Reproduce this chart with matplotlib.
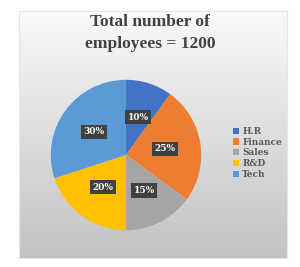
import matplotlib.pyplot as plt
import numpy as np

labels = ['H.R', 'Finance', 'Sales', 'R&D', 'Tech']
shares = [10, 25, 15, 20, 30]
colors = ['#4472C4', '#ED7D31', '#A5A5A5', '#FFC000', '#5B9BD5']
title_lines = ['Total number of', 'employees = 1200']

fig = plt.figure(figsize=(3.0, 2.67), dpi=100)
fig.patch.set_facecolor('white')

# chart panel with a light gradient (white at top, grey at bottom)
bg = fig.add_axes([19 / 300, 9 / 267, 268 / 300, 247 / 267])
bands = np.linspace(0, 1, 61)
for lo, hi in zip(bands[:-1], bands[1:]):
    g = 0.76 + 0.22 * lo
    bg.axhspan(lo, hi, color=(g, g, g), linewidth=0)
bg.set_xlim(0, 1)
bg.set_ylim(0, 1)
bg.set_xticks([])
bg.set_yticks([])
for s in bg.spines.values():
    s.set_color('#e6e6e6')

for i, line in enumerate(title_lines):
    fig.text(0.5, 1 - (22 + 22 * i) / 267, line, ha='center', va='center', fontsize=12.5,
             fontweight='bold', family='Liberation Serif', color='#404040')

ax = fig.add_axes([(126 - 94) / 300, (267 - 155 - 94) / 267, 188 / 300, 188 / 267])
ax.patch.set_visible(False)
wedges, texts = ax.pie(shares, colors=colors, startangle=90, counterclock=False,
                       labels=[f'{v}%' for v in shares], labeldistance=0.53)
for t in texts:
    t.set_ha('center')
    t.set_color('white')
    t.set_fontsize(6.5)
    t.set_fontweight('bold')
    t.set_family('DejaVu Serif')
    t.set_bbox(dict(facecolor='#404040', edgecolor='none', pad=1.8))
ax.set_aspect('equal')

leg = fig.legend(wedges, labels, loc='center left', bbox_to_anchor=(225 / 300, 1 - 153 / 267),
                 frameon=False, handlelength=0.7, handleheight=0.7, handletextpad=0.3,
                 labelspacing=0.2, prop=dict(family='DejaVu Serif', weight='bold', size=6.5))
for t in leg.get_texts():
    t.set_color('#595959')

fig.savefig('out.png', dpi=100)
